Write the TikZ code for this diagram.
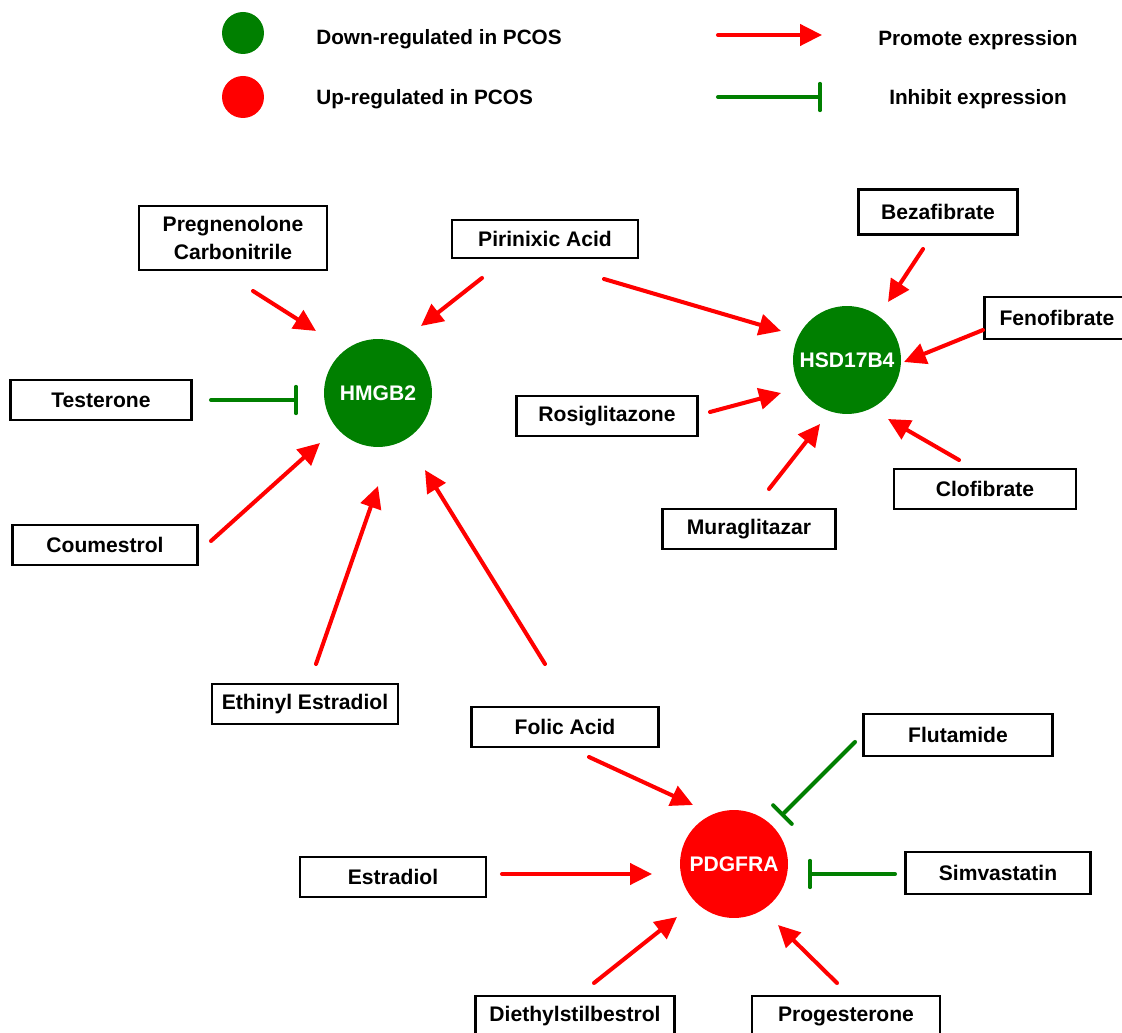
\documentclass[tikz,border=0pt]{standalone}
\usepackage{fontspec}
\setmainfont{Liberation Sans}
\usetikzlibrary{arrows.meta}
\definecolor{upred}{HTML}{FF0000}
\definecolor{downgreen}{HTML}{007F00}

\begin{document}
\begin{tikzpicture}[
    x=0.02cm, y=0.02cm,
    drug/.style={
        draw=black, line width=1.4pt, fill=white,
        minimum width=#1, minimum height=0.8cm, inner sep=0pt,
        font=\bfseries\fontsize{12}{16}\selectfont, align=center,
    },
    gene/.style={
        circle, fill=#1, minimum size=2.16cm, inner sep=0pt,
        font=\bfseries\fontsize{12}{14}\selectfont, text=white,
    },
    dot/.style={circle, fill=#1, minimum size=0.84cm, inner sep=0pt},
    legtext/.style={inner sep=0pt, font=\bfseries\fontsize{11.8}{14}\selectfont},
    promote/.style={upred, line width=2.3pt, line cap=round,
        -{Triangle[length=12.5pt, width=12pt]}},
    inhibit/.style={downgreen, line width=2.3pt, line cap=round,
        -{Bar[width=15pt, line cap=round]}},
]
\useasboundingbox (0,0) rectangle (1122,1032);

% ── Legend ──
\node[dot=downgreen] (legdown) at (243, 999) {};
\node[dot=upred] (legup) at (243, 935) {};
\node[legtext, anchor=west] (legdowntxt) at (316, 993) {Down-regulated in PCOS};
\node[legtext, anchor=west] (leguptxt) at (316, 933) {Up-regulated in PCOS};

\coordinate (legpa) at (718, 997);
\coordinate (legpb) at (822, 997);
\coordinate (legia) at (718, 935);
\coordinate (legib) at (822, 935);
\draw[promote] (legpa) -- (legpb);
\draw[inhibit] (legia) -- (legib);
\node[legtext] (legprom) at (978, 992) {Promote expression};
\node[legtext] (leginh) at (978, 933) {Inhibit expression};

% ── Genes ──
\node[gene=downgreen] (hmgb2) at (378, 639) {HMGB2};
\node[gene=downgreen] (hsd) at (847, 672) {HSD17B4};
\node[gene=upred] (pdgfra) at (734, 168) {PDGFRA};

% ── Drugs around HMGB2 ──
\node[drug=3.76cm, minimum height=1.28cm] (preg) at (233, 794) {Pregnenolone\\Carbonitrile};
\node[drug=3.72cm, minimum height=0.76cm] (pirin) at (545, 793) {Pirinixic Acid};
\node[drug=3.62cm] (test) at (101, 632) {Testerone};
\node[drug=3.70cm] (coum) at (105, 487) {Coumestrol};
\node[drug=3.72cm] (ethinyl) at (305, 328) {Ethinyl Estradiol};
\node[drug=3.74cm] (folic) at (565, 305) {Folic Acid};

% ── Drugs around HSD17B4 ──
\node[drug=3.18cm, minimum height=0.9cm] (beza) at (938, 820) {Bezafibrate};
\node[drug=2.9cm, minimum height=0.84cm] (feno) at (1057, 714) {Fenofibrate};
\node[drug=3.62cm] (rosi) at (607, 616) {Rosiglitazone};
\node[drug=3.64cm] (clof) at (985, 543) {Clofibrate};
\node[drug=3.46cm] (mura) at (749, 503) {Muraglitazar};

% ── Drugs around PDGFRA ──
\node[drug=3.78cm, minimum height=0.84cm] (fluta) at (958, 297) {Flutamide};
\node[drug=3.70cm, minimum height=0.84cm] (simva) at (998, 159) {Simvastatin};
\node[drug=3.72cm] (estra) at (393, 155) {Estradiol};
\node[drug=3.98cm] (diethyl) at (575, 16) {Diethylstilbestrol};
\node[drug=3.76cm] (proges) at (846, 16) {Progesterone};

% ── HMGB2 links ──
\draw[promote] ([shift={(20,-53)}]preg.center) -- ([shift={(-62,62)}]hmgb2.center);
\draw[promote] ([shift={(-63,-39)}]pirin.center) -- ([shift={(43,67)}]hmgb2.center);
\draw[inhibit] ([shift={(110,0)}]test.center) -- ([shift={(-80,-7)}]hmgb2.center);
\draw[promote] ([shift={(106,4)}]coum.center) -- ([shift={(-58,-50)}]hmgb2.center);
\draw[promote] ([shift={(11,40)}]ethinyl.center) -- ([shift={(0,-93)}]hmgb2.center);
\draw[promote] ([shift={(-20,63)}]folic.center) -- ([shift={(47,-77)}]hmgb2.center);

% ── HSD17B4 links ──
\draw[promote] ([shift={(59,-40)}]pirin.center) -- ([shift={(-66,29)}]hsd.center);
\draw[promote] ([shift={(-15,-37)}]beza.center) -- ([shift={(41,58)}]hsd.center);
\draw[promote] ([shift={(-74,-12)}]feno.center) -- ([shift={(57,-2)}]hsd.center);
\draw[promote] ([shift={(103,4)}]rosi.center) -- ([shift={(-66,-33)}]hsd.center);
\draw[promote] ([shift={(20,40)}]mura.center) -- ([shift={(-27,-64)}]hsd.center);
\draw[promote] ([shift={(-26,29)}]clof.center) -- ([shift={(41,-59)}]hsd.center);

% ── PDGFRA links ──
\draw[promote] ([shift={(24,-30)}]folic.center) -- ([shift={(-41,59)}]pdgfra.center);
\draw[inhibit] ([shift={(-103,-7)}]fluta.center) -- ([shift={(47,48)}]pdgfra.center);
\draw[promote] ([shift={(109,3)}]estra.center) -- ([shift={(-82,-10)}]pdgfra.center);
\draw[inhibit] ([shift={(-103,-1)}]simva.center) -- ([shift={(74,-10)}]pdgfra.center);
\draw[promote] ([shift={(19,33)}]diethyl.center) -- ([shift={(-57,-53)}]pdgfra.center);
\draw[promote] ([shift={(-9,33)}]proges.center) -- ([shift={(44,-61)}]pdgfra.center);

\end{tikzpicture}
\end{document}
